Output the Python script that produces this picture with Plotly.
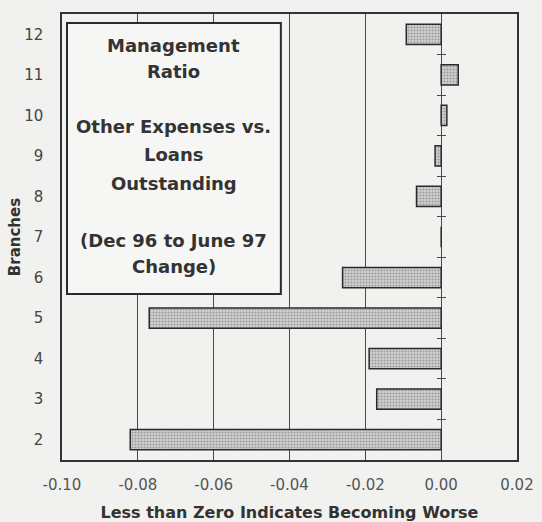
import plotly.graph_objects as go

# ---- data ----
branches = [2, 3, 4, 5, 6, 7, 8, 9, 10, 11, 12]
change = [-0.082, -0.017, -0.019, -0.077, -0.026, 0.0, -0.0065, -0.0016, 0.0015, 0.0045, -0.0092]
x_ticks = [-0.10, -0.08, -0.06, -0.04, -0.02, 0.00, 0.02]
x_tick_labels = ["-0.10", "-0.08", "-0.06", "-0.04", "-0.02", "0.00", "0.02"]
box_lines = ["Management", "Ratio", "Other Expenses vs.", "Loans", "Outstanding",
             "(Dec 96 to June 97", "Change)"]
box_line_y = [0.930, 0.870, 0.747, 0.684, 0.621, 0.493, 0.433]
boundaries = [b + 0.5 for b in branches[:-1]]

FONT = "DejaVu Sans"
BG = "#f1f1ef"
INK = "#333333"

fig = go.Figure()
fig.add_trace(go.Bar(
    x=change, y=branches, orientation="h", width=0.5,
    marker=dict(color="#cccccc",
                line=dict(color="#2a2a2a", width=1.5),
                pattern=dict(shape=".", fgcolor="#606060", bgcolor="#d2d2d2",
                             size=3, solidity=0.4)),
    showlegend=False, hoverinfo="x+y",
))
# helper traces so the tick axes at zero get drawn
fig.add_trace(go.Scatter(x=[None], y=[None], yaxis="y2", showlegend=False, hoverinfo="skip"))
fig.add_trace(go.Scatter(x=[None], y=[None], yaxis="y3", showlegend=False, hoverinfo="skip"))

zero_pos = (0 - x_ticks[0]) / (x_ticks[-1] - x_ticks[0])

fig.update_layout(
    width=542, height=522,
    margin=dict(l=62, r=25, t=14, b=62, autoexpand=False),
    paper_bgcolor=BG, plot_bgcolor=BG,
    font=dict(family=FONT, color=INK),
    xaxis=dict(
        range=[x_ticks[0], x_ticks[-1]], tickvals=x_ticks, ticktext=x_tick_labels,
        showgrid=True, gridcolor="#4a4a4a", gridwidth=1,
        zeroline=True, zerolinecolor="#4a4a4a", zerolinewidth=1,
        showline=True, linecolor=INK, linewidth=1.5, mirror=True,
        ticks="", ticklabelstandoff=10,
        tickfont=dict(family=FONT, size=15, color="#555555"),
        title=dict(text="<b>Less than Zero Indicates Becoming Worse</b>",
                   font=dict(family=FONT, size=16, color=INK), standoff=14),
        automargin=False,
    ),
    yaxis=dict(
        range=[1.5, 12.5], tickvals=branches, ticktext=[str(b) for b in branches],
        showgrid=False, zeroline=False,
        showline=True, linecolor=INK, linewidth=1.5, mirror=True,
        ticks="", ticklabelstandoff=14,
        tickfont=dict(family=FONT, size=15, color="#444444"),
        title=dict(text="<b>Branches</b>", font=dict(family=FONT, size=15, color=INK),
                   standoff=0),
        automargin=False,
    ),
    yaxis2=dict(
        overlaying="y", anchor="free", position=zero_pos, range=[1.5, 12.5],
        tickvals=boundaries, ticks="outside", ticklen=4, tickcolor="#4a4a4a",
        showticklabels=False, showgrid=False, zeroline=False, showline=False,
    ),
    yaxis3=dict(
        overlaying="y", anchor="free", position=zero_pos, range=[1.5, 12.5],
        tickvals=boundaries, ticks="inside", ticklen=4, tickcolor="#4a4a4a",
        showticklabels=False, showgrid=False, zeroline=False, showline=False,
    ),
    shapes=[dict(type="rect", xref="paper", yref="paper",
                 x0=0.011, x1=0.481, y0=0.372, y1=0.980,
                 line=dict(color="#2a2a2a", width=2), fillcolor="#f6f6f4", layer="above")],
)

for txt, yy in zip(box_lines, box_line_y):
    fig.add_annotation(text="<b>" + txt + "</b>", xref="paper", yref="paper",
                       x=0.246, y=yy, showarrow=False, xanchor="center", yanchor="middle",
                       font=dict(family=FONT, size=18, color=INK))

fig.write_html("out.html", config={"displayModeBar": False},
               post_script="document.body.style.margin='0px';")
